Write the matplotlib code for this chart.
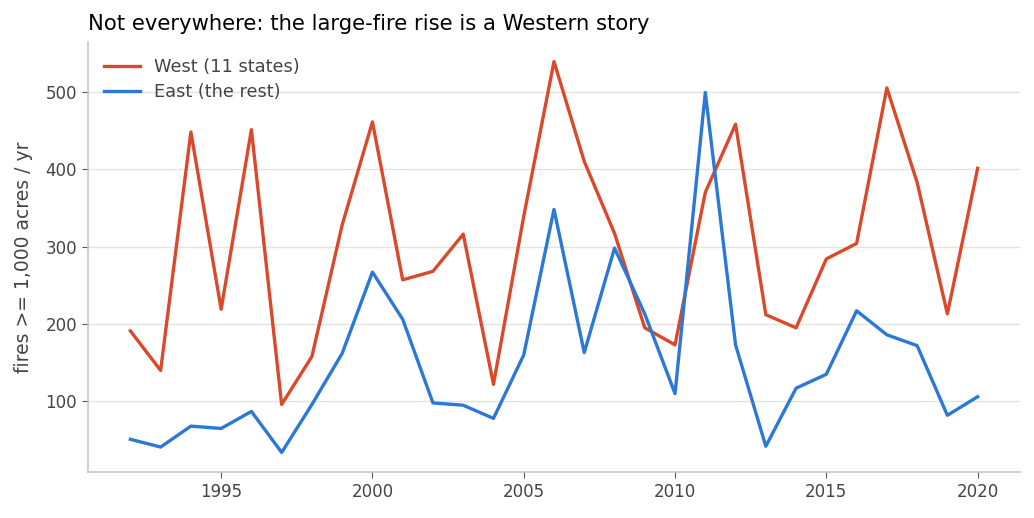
import matplotlib
matplotlib.use('Agg')
import matplotlib.pyplot as plt

years = list(range(1992, 2021))
west = [191, 140, 448, 219, 451, 96, 158, 328, 461, 257, 268, 316, 122, 339, 539,
        410, 317, 195, 173, 370, 458, 212, 195, 284, 304, 505, 383, 213, 401]
east = [51, 41, 68, 65, 87, 34, 96, 162, 267, 206, 98, 95, 78, 160, 348,
        163, 298, 213, 110, 499, 173, 42, 117, 135, 217, 186, 172, 82, 106]

SPINE = '#c8c8bc'
TEXT = '#444444'

fig = plt.figure(figsize=(10.34, 5.18), dpi=100)
ax = fig.add_axes([88 / 1034, 46 / 518, 932 / 1034, 430 / 518])

ax.plot(years, west, color='#d9492a', lw=2.4, label='West (11 states)')
ax.plot(years, east, color='#2b78d6', lw=2.4, label='East (the rest)')

ax.set_yticks([100, 200, 300, 400, 500])
ax.set_xticks([1995, 2000, 2005, 2010, 2015, 2020])
ax.grid(axis='y', color='#e3e3e0', lw=1)
ax.set_axisbelow(True)

for side in ['top', 'right']:
    ax.spines[side].set_visible(False)
for side in ['left', 'bottom']:
    ax.spines[side].set_color(SPINE)
    ax.spines[side].set_linewidth(1.2)
ax.tick_params(colors=TEXT, labelsize=12, length=4.5)
ax.tick_params(axis='both', color='#555555')

ax.set_ylabel('fires >= 1,000 acres / yr', color=TEXT, fontsize=13.5, labelpad=9)
ax.set_title('Not everywhere: the large-fire rise is a Western story',
             loc='left', fontsize=15.2, color='black', x=0.0, pad=9)

leg = ax.legend(loc='upper left', frameon=False, fontsize=12.8,
                handlelength=2.0, labelspacing=0.4)
for t in leg.get_texts():
    t.set_color(TEXT)

fig.savefig('out.png', dpi=100)
